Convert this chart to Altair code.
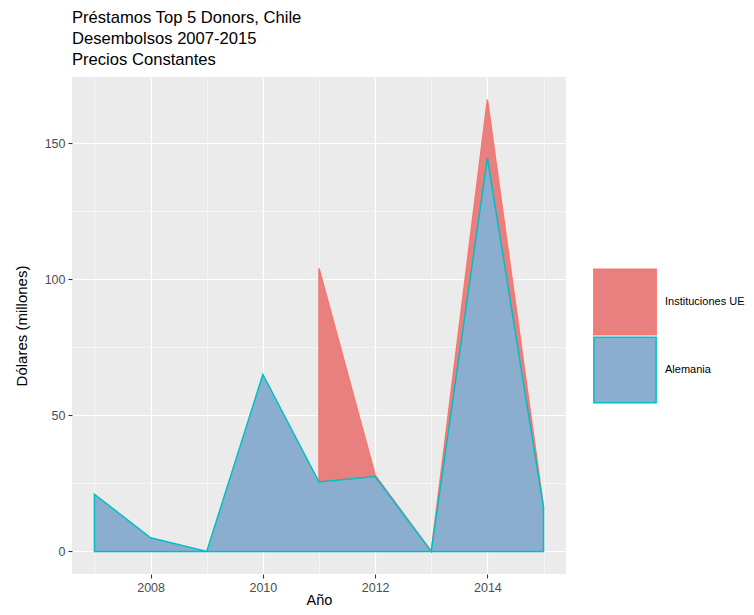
import altair as alt
import pandas as pd

years = [2007, 2008, 2009, 2010, 2011, 2012, 2013, 2014, 2015]
alemania = [21, 5, 0, 65, 25.5, 27.5, 0, 144.5, 16]
inst_ue = [None, None, None, None, 78.5, 0.5, 0, 21.5, 0]

donors = ["Instituciones UE", "Alemania"]
fill_colors = ["#E8807F", "#8BAECF"]
stroke_colors = ["#F8766D", "#00BFC4"]

df = pd.DataFrame({"year": years, "alemania": alemania, "ue": inst_ue})

FONT = "Liberation Sans"

xscale = alt.Scale(domain=[2006.6, 2015.4], nice=False, zero=False)
yscale = alt.Scale(domain=[-8.3, 174.3], nice=False, zero=False)

xaxis = alt.Axis(
    title="Año",
    values=[2007, 2008, 2009, 2010, 2011, 2012, 2013, 2014, 2015],
    labelExpr="datum.value % 2 == 0 ? format(datum.value, 'd') : ''",
    tickOpacity={"condition": {"test": "datum.value % 2 == 0", "value": 1}, "value": 0},
    gridWidth={"condition": {"test": "datum.value % 2 == 0", "value": 1.2}, "value": 0.5},
)
yaxis = alt.Axis(
    title="Dólares (millones)",
    values=[0, 25, 50, 75, 100, 125, 150],
    labelExpr="datum.value % 50 == 0 ? format(datum.value, 'd') : ''",
    tickOpacity={"condition": {"test": "datum.value % 50 == 0", "value": 1}, "value": 0},
    gridWidth={"condition": {"test": "datum.value % 50 == 0", "value": 1.2}, "value": 0.5},
)

fill_scale = alt.Scale(domain=donors, range=fill_colors)
stroke_scale = alt.Scale(domain=donors, range=stroke_colors)
leg = alt.Legend(
    title=None,
    orient="none",
    legendX=521,
    legendY=193,
    symbolType="M-1,-1.05H1V1.05H-1Z",
    symbolSize=3880,
    symbolStrokeWidth=1.5,
    rowPadding=-20,
    labelFont=FONT,
    labelFontSize=11,
    labelColor="black",
    labelOffset=8,
    padding=0,
)

base = alt.Chart(df)

ue_layer = base.transform_filter("isValid(datum.ue)").transform_calculate(
    top="datum.alemania + datum.ue", donor="'Instituciones UE'"
).mark_area(strokeWidth=1.5, opacity=1).encode(
    x=alt.X("year:Q", scale=xscale, axis=xaxis),
    y=alt.Y("top:Q", scale=yscale, axis=yaxis),
    y2="alemania:Q",
    fill=alt.Fill("donor:N", scale=fill_scale, legend=leg),
    stroke=alt.Stroke("donor:N", scale=stroke_scale, legend=leg),
)

al_layer = base.transform_calculate(donor="'Alemania'", zero="0").mark_area(
    strokeWidth=1.5, opacity=1
).encode(
    x=alt.X("year:Q", scale=xscale, axis=xaxis),
    y=alt.Y("alemania:Q", scale=yscale, axis=yaxis),
    y2="zero:Q",
    fill=alt.Fill("donor:N", scale=fill_scale, legend=leg),
    stroke=alt.Stroke("donor:N", scale=stroke_scale, legend=leg),
)

chart = alt.layer(ue_layer, al_layer).properties(
    width=494,
    height=497,
    background="white",
    autosize=alt.AutoSizeParams(type="none"),
    padding={"left": 64, "top": 69, "right": 180, "bottom": 33},
    title=alt.Title(
        ["Préstamos Top 5 Donors, Chile", "Desembolsos 2007-2015", "Precios Constantes"],
        anchor="start",
        frame="group",
        font=FONT,
        fontSize=16.6,
        fontWeight="normal",
        lineHeight=21,
        offset=8,
        color="black",
    ),
).configure_view(
    fill="#EBEBEB", stroke=None
).configure_axis(
    domain=False,
    gridColor="white",
    tickColor="#333333",
    tickSize=4,
    tickWidth=1.1,
    labelFont=FONT,
    labelFontSize=12.5,
    labelColor="#4D4D4D",
    labelPadding=3,
    titleFont=FONT,
    titleFontSize=14.5,
    titleFontWeight="normal",
    titleColor="black",
).configure_axisY(
    titleFontSize=15,
    titlePadding=15
).configure_axisX(
    titlePadding=0
)

chart.save("out.html", embed_options={"renderer": "svg", "actions": False})
